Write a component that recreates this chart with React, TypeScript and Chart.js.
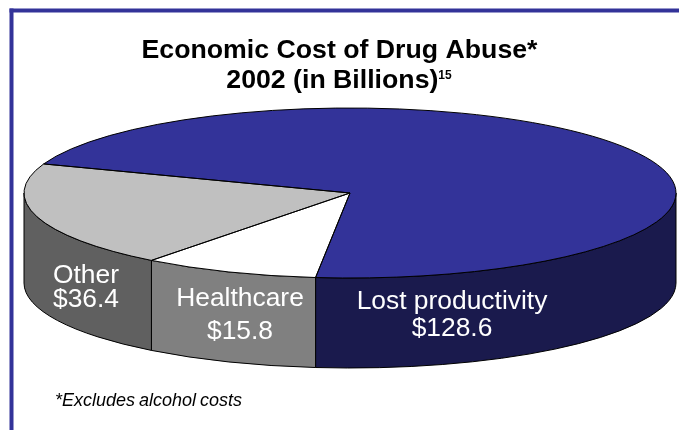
import React, { useEffect, useRef } from "react";
import { Chart, registerables } from "chart.js";

Chart.register(...registerables);

const categories = ["Lost productivity", "Healthcare", "Other"];
const costs = [128.6, 15.8, 36.4];
const topColors = ["#333399", "#FFFFFF", "#C0C0C0"];
const wallColors = ["#1A1A4D", "#808080", "#606060"];
const titleLines = ["Economic Cost of Drug Abuse*", "2002 (in Billions)"];
const titleNote = "15";
const footnote = "*Excludes alcohol costs";

// Horizontal centre and baselines for each slice's caption (name, value).
const captionPlacement = [
  { x: 452, nameY: 309, valueY: 336 },
  { x: 240, nameY: 306, valueY: 339 },
  { x: 86, nameY: 283, valueY: 307 },
];

const FACE_RADIUS = 326;
const TILT = 85 / 326;
const DEPTH = 90;
const SANS = '"Liberation Sans", Arial, sans-serif';

// Wraps the library's arc drawing in a vertical squash, with the extruded
// side wall painted underneath and crisp outlines stroked on top.
const tiltedPie = {
  id: "tiltedPie",
  beforeDraw(chart: any) {
    const { ctx, width, height } = chart;
    ctx.save();
    ctx.fillStyle = "#FFFFFF";
    ctx.fillRect(0, 0, width, height);
    ctx.fillStyle = "#333399";
    ctx.fillRect(9.5, 8.5, width, 4);
    ctx.fillRect(9.5, 8.5, 4, height);
    ctx.restore();
  },
  beforeDatasetsDraw(chart: any) {
    const { ctx } = chart;
    const arcs = chart.getDatasetMeta(0).data;
    const cx = arcs[0].x;
    const cy = arcs[0].y;
    const rx = arcs[0].outerRadius;
    const ry = rx * TILT;
    ctx.save();
    ctx.strokeStyle = "#000000";
    ctx.lineWidth = 1;
    arcs.forEach((arc: any, i: number) => {
      // Only the part of a slice on the near half of the disc shows a wall.
      [0, 2 * Math.PI].forEach((turn) => {
        const from = Math.max(arc.startAngle, turn);
        const to = Math.min(arc.endAngle, turn + Math.PI);
        if (to <= from) return;
        ctx.beginPath();
        ctx.ellipse(cx, cy, rx, ry, 0, from, to);
        ctx.ellipse(cx, cy + DEPTH, rx, ry, 0, to, from, true);
        ctx.closePath();
        ctx.fillStyle = wallColors[i];
        ctx.fill();
        ctx.stroke();
      });
    });
    ctx.restore();
    ctx.save();
    ctx.translate(cx, cy);
    ctx.scale(1, TILT);
    ctx.translate(-cx, -cy);
  },
  afterDatasetsDraw(chart: any) {
    const { ctx } = chart;
    ctx.restore();
    const arcs = chart.getDatasetMeta(0).data;
    ctx.save();
    ctx.strokeStyle = "#000000";
    ctx.lineWidth = 1;
    ctx.lineJoin = "round";
    arcs.forEach((arc: any) => {
      const ry = arc.outerRadius * TILT;
      ctx.beginPath();
      ctx.moveTo(arc.x, arc.y);
      ctx.ellipse(arc.x, arc.y, arc.outerRadius, ry, 0, arc.startAngle, arc.endAngle);
      ctx.closePath();
      ctx.stroke();
    });
    ctx.restore();
  },
  afterDraw(chart: any) {
    const { ctx } = chart;
    ctx.save();

    ctx.fillStyle = "#000000";
    ctx.textBaseline = "alphabetic";
    ctx.textAlign = "left";
    ctx.font = `bold 26.7px ${SANS}`;
    const first = ctx.measureText(titleLines[0]).width;
    ctx.fillText(titleLines[0], 339.5 - first / 2, 58);
    const second = ctx.measureText(titleLines[1]).width;
    ctx.font = `bold 12px ${SANS}`;
    const note = ctx.measureText(titleNote).width;
    const secondX = 339 - (second + note) / 2;
    ctx.fillText(titleNote, secondX + second, 79);
    ctx.font = `bold 26.7px ${SANS}`;
    ctx.fillText(titleLines[1], secondX, 88);

    ctx.fillStyle = "#FFFFFF";
    ctx.textAlign = "center";
    ctx.font = `26.4px ${SANS}`;
    categories.forEach((name, i) => {
      const spot = captionPlacement[i];
      ctx.fillText(name, spot.x, spot.nameY);
      ctx.fillText(`$${costs[i]}`, spot.x, spot.valueY);
    });

    ctx.fillStyle = "#000000";
    ctx.textAlign = "left";
    ctx.font = `italic 18px ${SANS}`;
    ctx.wordSpacing = "-1px";
    ctx.fillText(footnote, 55, 406);
    ctx.restore();
  },
};

export default function App() {
  const canvasRef = useRef<HTMLCanvasElement>(null);

  useEffect(() => {
    const chart = new Chart(canvasRef.current!, {
      type: "pie",
      data: {
        labels: categories,
        datasets: [
          {
            data: costs,
            backgroundColor: topColors,
            borderWidth: 0,
          },
        ],
      },
      options: {
        responsive: false,
        animation: false,
        rotation: 290,
        radius: FACE_RADIUS,
        layout: { padding: { left: 24, right: 3, top: 0, bottom: 44 } },
        plugins: {
          legend: { display: false },
          title: { display: false },
          tooltip: { enabled: false },
        },
      },
      plugins: [tiltedPie],
    } as any);
    return () => chart.destroy();
  }, []);

  return (
    <div style={{ position: "fixed", left: 0, top: 0, width: 679, height: 430 }}>
      <canvas ref={canvasRef} width={679} height={430} style={{ display: "block" }} />
    </div>
  );
}
